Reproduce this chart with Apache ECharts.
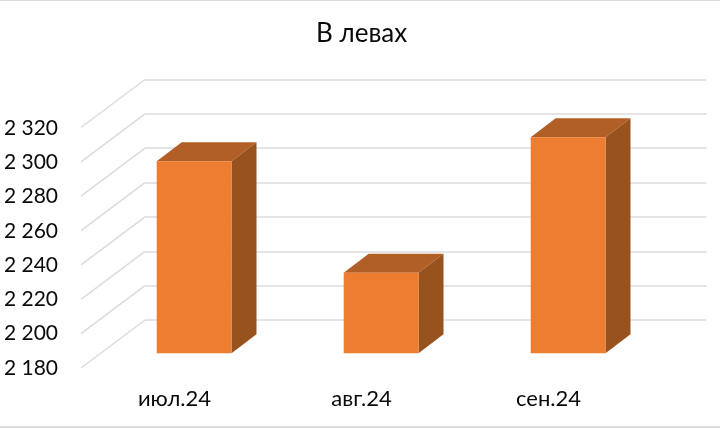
<!DOCTYPE html>
<html>
<head>
<meta charset="utf-8">
<style>html,body{margin:0;padding:0;background:#fff}#c{width:720px;height:428px}</style>
<script src="https://cdn.jsdelivr.net/npm/echarts@6/dist/echarts.min.js"></script>
</head>
<body>
<div id="c"></div>
<script>
const titleText = 'В левах';
const categories = ['июл.24', 'авг.24', 'сен.24'];
const values = [2292, 2227, 2306];
const axisMin = 2180;
const axisMax = 2320;
const axisStep = 20;
const wallTicks = [2180, 2200, 2220, 2240, 2260, 2280, 2300, 2320];

const chart = echarts.init(document.getElementById('c'), null, {renderer: 'canvas'});
const FONT = 'Lato';
const GRID_GREY = '#dcdcdc';
const TEXT = '#0a0a0a';
const sideDx = -64, sideDy = 48;
const barDx = 25, barDy = -19;

function valueAxis(gridIndex, showLabels) {
  return {
    type: 'value', gridIndex, min: axisMin, max: axisMax, interval: axisStep,
    axisLine: {show: false}, axisTick: {show: false},
    splitLine: {show: !showLabels, lineStyle: {color: GRID_GREY, width: 1.5}},
    axisLabel: {
      show: showLabels, margin: 23, fontFamily: FONT, fontSize: 21, color: TEXT,
      formatter: v => String(v).replace(/(\d)(\d{3})$/, '$1 $2')
    }
  };
}

chart.setOption({
  animation: false,
  backgroundColor: '#fff',
  title: {
    text: titleText, left: 311, top: 16, textAlign: 'left',
    textStyle: {fontFamily: FONT, fontSize: 26, fontWeight: 'normal', color: TEXT}
  },
  graphic: [
    {type: 'rect', shape: {x: 0, y: 0, width: 720, height: 1}, style: {fill: '#dcdcdc'}},
    {type: 'rect', shape: {x: 0, y: 426, width: 720, height: 2}, style: {fill: '#dcdcdc'}}
  ],
  grid: [
    {left: 145, width: 561.5, top: 79.5, height: 240.5},
    {left: 81, width: 561, top: 128, height: 240},
    {left: 100.6, width: 561, top: 113.3, height: 240}
  ],
  xAxis: [
    {type: 'value', gridIndex: 0, min: 0, max: 1, show: false},
    {
      type: 'category', gridIndex: 1, data: categories,
      axisLine: {show: false}, axisTick: {show: false},
      axisLabel: {margin: 20, fontFamily: FONT, fontSize: 22, color: TEXT}
    },
    {type: 'category', gridIndex: 2, data: categories, show: false}
  ],
  yAxis: [valueAxis(0, false), valueAxis(1, true), Object.assign(valueAxis(2, false), {splitLine: {show: false}})],
  series: [
    {
      type: 'custom', xAxisIndex: 0, yAxisIndex: 0, clip: false, silent: true,
      data: wallTicks,
      encode: {y: 0},
      renderItem(params, api) {
        const p = api.coord([0, api.value(0)]);
        return {
          type: 'line',
          shape: {x1: p[0], y1: p[1], x2: p[0] + sideDx, y2: p[1] + sideDy},
          style: {stroke: GRID_GREY, lineWidth: 1.5, fill: null}
        };
      }
    },
    {
      type: 'custom', xAxisIndex: 2, yAxisIndex: 2, clip: false, z: 5,
      data: values.map((v, i) => [i, v]),
      encode: {x: 0, y: 1},
      renderItem(params, api) {
        const i = api.value(0), v = api.value(1);
        const top = api.coord([i, v]);
        const base = api.coord([i, axisMin]);
        const w = api.size([1, 0])[0] * 0.4;
        const l = top[0] - w / 2, r = top[0] + w / 2, t = top[1], b = base[1];
        return {
          type: 'group',
          children: [
            {type: 'polygon', shape: {points: [[l, t], [r, t], [r + barDx, t + barDy], [l + barDx, t + barDy]]}, style: {fill: '#b15f26'}},
            {type: 'polygon', shape: {points: [[r, t], [r + barDx, t + barDy], [r + barDx, b + barDy], [r, b]]}, style: {fill: '#98521d'}},
            {type: 'rect', shape: {x: l, y: t, width: w, height: b - t}, style: {fill: '#ed7d31'}}
          ]
        };
      }
    }
  ]
});
</script>
</body>
</html>
